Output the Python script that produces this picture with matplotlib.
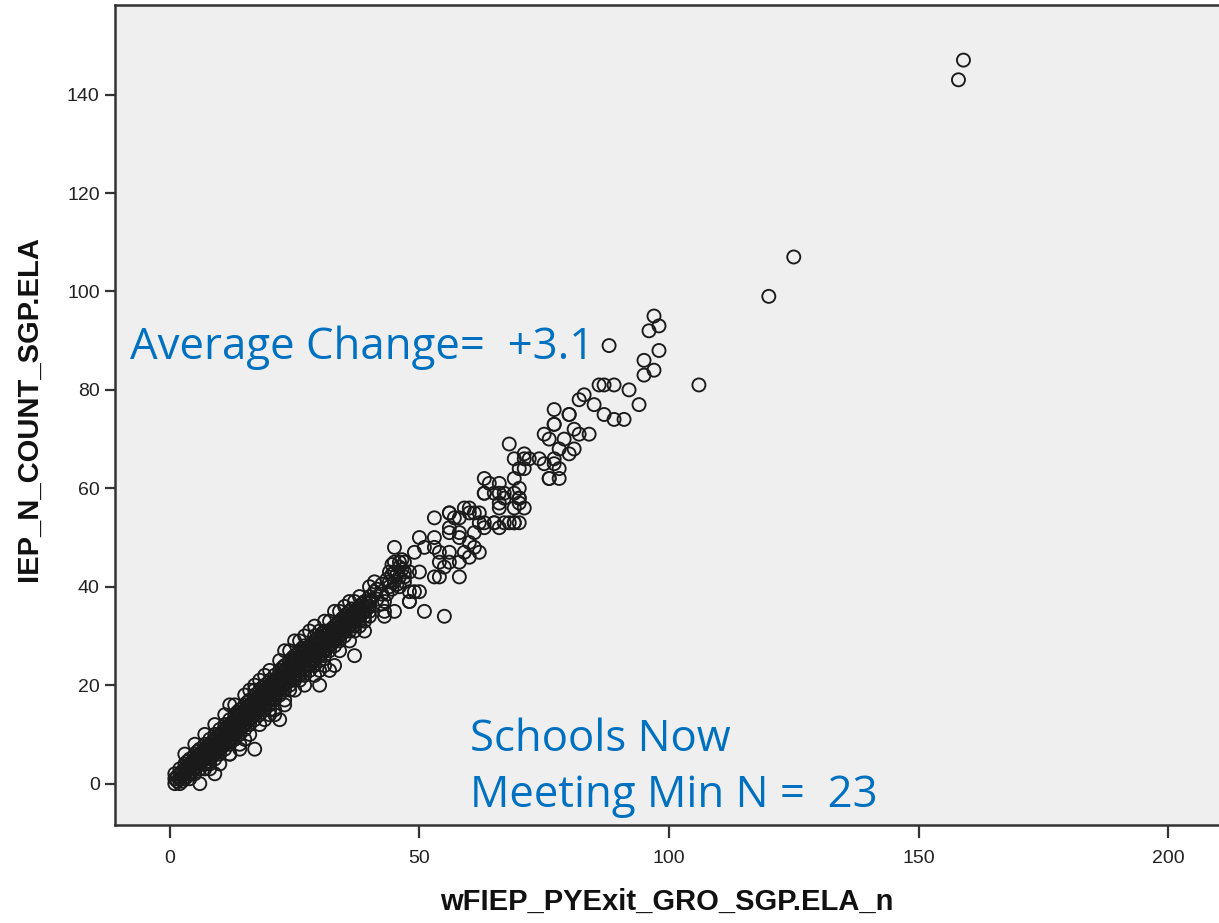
import matplotlib
matplotlib.use("Agg")
import matplotlib.pyplot as plt

# School-level counts: prior-year exit cohort (x) vs current IEP count (y)
# dense lower band
x_low = [1, 1, 1,
         2, 2, 2, 2,
         3, 3, 3, 3,
         4, 4, 4, 4, 4,
         5, 5, 5, 5, 5,
         6, 6, 6, 6, 6, 6,
         7, 7, 7, 7, 7, 7,
         8, 8, 8, 8, 8, 8,
         9, 9, 9, 9, 9, 9, 9,
         10, 10, 10, 10, 10, 10,
         11, 11, 11, 11, 11, 11,
         12, 12, 12, 12, 12, 12, 12, 12,
         13, 13, 13, 13, 13, 13,
         14, 14, 14, 14, 14, 14, 14,
         15, 15, 15, 15, 15, 15, 15,
         16, 16, 16, 16, 16, 16,
         17, 17, 17, 17, 17, 17, 17, 17, 17,
         18, 18, 18, 18, 18, 18,
         19, 19, 19, 19, 19, 19, 19, 19,
         20, 20, 20, 20, 20, 20, 20, 20,
         21, 21, 21, 21, 21, 21, 21,
         22, 22, 22, 22, 22, 22, 22,
         23, 23, 23, 23, 23, 23, 23, 23,
         24, 24, 24, 24, 24, 24, 24,
         25, 25, 25, 25, 25, 25, 25,
         26, 26, 26, 26, 26, 26, 26,
         27, 27, 27, 27, 27, 27, 27,
         28, 28, 28, 28, 28, 28,
         29, 29, 29, 29, 29, 29, 29,
         30, 30, 30, 30, 30, 30, 30, 30,
         31, 31, 31, 31, 31, 31,
         32, 32, 32, 32, 32, 32, 32,
         33, 33, 33, 33, 33, 33,
         34, 34, 34, 34, 34, 34,
         35, 35, 35, 35, 35,
         36, 36, 36, 36, 36,
         37, 37, 37, 37, 37, 37, 37,
         38, 38, 38, 38, 38,
         39, 39, 39, 39, 39,
         40, 40, 40, 40, 40, 40]
y_low = [0, 1, 2,
         0, 1, 2, 3,
         1, 2, 3, 4,
         1, 2, 3, 4, 5,
         2, 3, 4, 5, 6,
         0, 3, 4, 5, 6, 7,
         3, 4, 5, 6, 7, 8,
         4, 5, 6, 7, 8, 9,
         2, 5, 6, 7, 8, 9, 10,
         6, 7, 8, 9, 10, 11,
         7, 8, 9, 10, 11, 12,
         6, 8, 9, 10, 11, 12, 13, 16,
         9, 10, 11, 12, 13, 14,
         7, 10, 11, 12, 13, 14, 15,
         9, 11, 12, 13, 14, 15, 16,
         12, 13, 14, 15, 16, 17,
         7, 13, 14, 15, 16, 17, 18, 19, 20,
         14, 15, 16, 17, 18, 19,
         13, 15, 16, 17, 18, 19, 20, 22,
         14, 15, 16, 17, 18, 19, 20, 21,
         14, 17, 18, 19, 20, 21, 22,
         13, 18, 19, 20, 21, 22, 23,
         16, 19, 20, 21, 22, 23, 24, 27,
         19, 20, 21, 22, 23, 24, 25,
         21, 22, 23, 24, 25, 26, 29,
         21, 22, 23, 24, 25, 26, 27,
         22, 23, 24, 25, 26, 27, 28,
         23, 24, 25, 26, 27, 28,
         24, 25, 26, 27, 28, 29, 30,
         20, 23, 25, 26, 27, 28, 29, 31,
         26, 27, 28, 29, 30, 31,
         23, 27, 28, 29, 30, 31, 33,
         24, 28, 29, 30, 31, 32,
         29, 30, 31, 32, 33, 35,
         30, 31, 32, 33, 34,
         31, 32, 33, 34, 35,
         26, 31, 32, 33, 34, 35, 37,
         32, 33, 34, 35, 36,
         33, 34, 35, 36, 37,
         34, 35, 36, 37, 38, 40]

# weighted cohorts falling between whole counts
x_half = [1.5, 1.5,
          2.5, 2.5, 2.5,
          3.5, 3.5, 3.5, 3.5,
          4.5, 4.5, 4.5,
          5.5, 5.5, 5.5, 5.5,
          6.5, 6.5, 6.5,
          7.5, 7.5, 7.5, 7.5,
          8.5, 8.5, 8.5, 8.5,
          9.5, 9.5, 9.5, 9.5,
          10.5, 10.5, 10.5, 10.5,
          11.5, 11.5, 11.5, 11.5,
          12.5, 12.5, 12.5, 12.5,
          13.5, 13.5, 13.5, 13.5, 13.5,
          14.5, 14.5, 14.5, 14.5,
          15.5, 15.5, 15.5, 15.5, 15.5,
          16.5, 16.5, 16.5, 16.5,
          17.5, 17.5, 17.5, 17.5,
          18.5, 18.5, 18.5, 18.5, 18.5,
          19.5, 19.5, 19.5, 19.5,
          20.5, 20.5, 20.5, 20.5,
          21.5, 21.5, 21.5, 21.5,
          22.5, 22.5, 22.5, 22.5, 22.5,
          23.5, 23.5, 23.5, 23.5,
          24.5, 24.5, 24.5, 24.5, 24.5,
          25.5, 25.5, 25.5, 25.5,
          26.5, 26.5, 26.5, 26.5, 26.5,
          27.5, 27.5, 27.5, 27.5,
          28.5, 28.5, 28.5, 28.5,
          29.5, 29.5, 29.5, 29.5,
          30.5, 30.5, 30.5, 30.5, 30.5,
          31.5, 31.5, 31.5, 31.5,
          32.5, 32.5, 32.5, 32.5,
          33.5, 33.5, 33.5, 33.5,
          34.5, 34.5, 34.5, 34.5,
          35.5, 35.5, 35.5, 35.5,
          36.5, 36.5, 36.5, 36.5,
          37.5, 37.5, 37.5,
          38.5, 38.5, 38.5,
          39.5, 39.5,
          41.5, 41.5,
          42.5, 42.5, 42.5,
          43.5, 43.5,
          44.5, 44.5, 44.5,
          45.5, 45.5,
          46.5, 46.5]
y_half = [0.5, 1.5,
          0.5, 1.5, 2.5,
          1.5, 2.5, 3.5, 4.5,
          2.5, 3.5, 4.5,
          3.5, 4.5, 5.5, 6.5,
          4.5, 5.5, 6.5,
          4.5, 5.5, 6.5, 7.5,
          5.5, 6.5, 7.5, 8.5,
          6.5, 7.5, 8.5, 9.5,
          7.5, 8.5, 9.5, 10.5,
          8.5, 9.5, 10.5, 11.5,
          9.5, 10.5, 11.5, 12.5,
          10.5, 11.5, 12.5, 13.5, 14.5,
          11.5, 12.5, 13.5, 14.5,
          12.5, 13.5, 14.5, 15.5, 16.5,
          13.5, 14.5, 15.5, 16.5,
          14.5, 15.5, 16.5, 17.5,
          15.5, 16.5, 17.5, 18.5, 19.5,
          16.5, 17.5, 18.5, 19.5,
          17.5, 18.5, 19.5, 20.5,
          18.5, 19.5, 20.5, 21.5,
          19.5, 20.5, 21.5, 22.5, 23.5,
          20.5, 21.5, 22.5, 23.5,
          21.5, 22.5, 23.5, 24.5, 25.5,
          22.5, 23.5, 24.5, 25.5,
          23.5, 24.5, 25.5, 26.5, 27.5,
          24.5, 25.5, 26.5, 27.5,
          25.5, 26.5, 27.5, 28.5,
          26.5, 27.5, 28.5, 29.5,
          26.5, 27.5, 28.5, 29.5, 30.5,
          27.5, 28.5, 29.5, 30.5,
          28.5, 29.5, 30.5, 31.5,
          29.5, 30.5, 31.5, 32.5,
          30.5, 31.5, 32.5, 33.5,
          31.5, 32.5, 33.5, 34.5,
          32.5, 33.5, 34.5, 35.5,
          33.5, 34.5, 35.5,
          34.5, 35.5, 36.5,
          35.5, 36.5,
          37.5, 39.5,
          36.5, 38.5, 40.5,
          38.5, 41.5,
          39.5, 42.5, 44.5,
          40.5, 42.5,
          43.5, 45.5]

# schools on the outer edges of the band
x_edge = [3, 5, 7, 9, 11, 13, 15, 16, 18, 20, 22, 24, 26, 27, 28, 29, 31, 33,
          35, 36, 38, 8, 10, 12, 14, 16, 18, 21, 23, 25, 27, 29, 31, 34, 36, 39]
y_edge = [6, 8, 10, 12, 14, 16, 18, 19, 21, 23, 25, 27, 29, 30, 31, 32, 33, 35,
          36, 37, 38, 3, 4, 6, 8, 10, 12, 15, 17, 19, 20, 22, 24, 27, 29, 31]

# middle range
x_mid = [41, 41, 40, 43, 43, 43, 45, 48, 45, 45, 44, 44, 46, 47, 47, 48, 50, 48,
         49, 50, 48, 51, 55, 45, 46, 46, 47, 45, 44, 46, 47,
         50, 49, 51, 53, 53, 54, 54, 56, 55, 53, 54, 56, 58, 58, 60, 59, 61, 62,
         61, 60, 58, 56, 53, 56, 58, 60, 61, 62, 63, 65, 67, 69, 70, 63, 64, 66,
         67, 69, 70, 69, 71, 66, 56, 57, 59, 60, 62, 63, 65, 66, 68, 69, 56, 58]
y_mid = [41, 39, 37, 37, 35, 34, 35, 37, 48, 45, 43, 41, 45, 43, 41, 43, 43, 39,
         39, 39, 37, 35, 34, 43, 44, 42, 45, 41, 40, 40, 42,
         50, 47, 48, 50, 48, 47, 45, 47, 44, 42, 42, 45, 42, 45, 46, 47, 48, 47,
         51, 49, 50, 51, 54, 55, 54, 56, 55, 53, 53, 53, 53, 53, 53, 59, 61, 59,
         58, 59, 58, 56, 56, 56, 55, 54, 56, 55, 55, 52, 53, 52, 53, 53, 52, 51]

# upper range
x_high = [63, 63, 66, 67, 66, 65, 68, 69, 71, 70, 71, 69, 70, 70, 70, 74, 75, 76,
          71, 72, 77, 78, 76, 78, 75, 76, 77, 77, 80, 79, 81, 82, 84, 78, 81, 80,
          77, 77, 82, 83, 85, 86, 87, 89, 87, 89, 91, 80, 92, 94,
          88, 97, 98, 96, 98, 95, 97, 95, 106, 120, 125, 158, 159]
y_high = [62, 59, 61, 59, 57, 59, 69, 66, 66, 64, 64, 62, 60, 58, 57, 66, 65, 62,
          67, 66, 66, 64, 62, 62, 71, 70, 73, 76, 75, 70, 72, 71, 71, 68, 68, 67,
          73, 65, 78, 79, 77, 81, 81, 81, 75, 74, 74, 75, 80, 77,
          89, 95, 93, 92, 88, 86, 84, 83, 81, 99, 107, 143, 147]

x_vals = x_low + x_half + x_edge + x_mid + x_high
y_vals = y_low + y_half + y_edge + y_mid + y_high

x_ticks = [0, 50, 100, 150, 200]
y_ticks = [0, 20, 40, 60, 80, 100, 120, 140]

fig = plt.figure(figsize=(12.19, 9.23), dpi=100)
ax = fig.add_axes([0.0943, 0.1062, 0.9057, 0.8884])
ax.set_facecolor("#efefef")

ax.scatter(x_vals, y_vals, s=88, facecolors="none", edgecolors="#1a1a1a",
           linewidths=1.35, zorder=3)

ax.set_xlim(-11.0, 210.2)
ax.set_ylim(-8.4, 158.2)
ax.set_xticks(x_ticks)
ax.set_yticks(y_ticks)

tick_font = dict(family="Liberation Sans", size=14)
ax.set_xticklabels([str(t) for t in x_ticks], **tick_font, color="#222222")
ax.set_yticklabels([str(t) for t in y_ticks], **tick_font, color="#222222")
ax.tick_params(axis="y", direction="out", length=7, width=1.6,
               color="#333333", pad=4)
ax.tick_params(axis="x", direction="out", length=9, width=1.6,
               color="#333333", pad=9)

for side in ("left", "bottom", "top"):
    ax.spines[side].set_color("#333333")
    ax.spines[side].set_linewidth(1.8)
ax.spines["right"].set_visible(False)

label_font = dict(family="Liberation Sans", size=21, weight="bold", color="#111111")
ax.set_xlabel("wFIEP_PYExit_GRO_SGP.ELA_n", **label_font)
ax.set_ylabel("IEP_N_COUNT_SGP.ELA", **label_font)
ax.xaxis.set_label_coords(0.5, -0.077)
ax.yaxis.set_label_coords(-0.065, 0.508)

note_font = dict(family="Open Sans", size=31.5, color="#0070c0")
ax.text(-8.0, 88.6, "Average Change=  +3.1", va="center", ha="left", **note_font)
ax.text(60.2, 9.0, "Schools Now", va="center", ha="left", **note_font)
ax.text(60.2, -2.4, "Meeting Min N =  23", va="center", ha="left", **note_font)

fig.savefig("out.png", dpi=100, facecolor="white")
